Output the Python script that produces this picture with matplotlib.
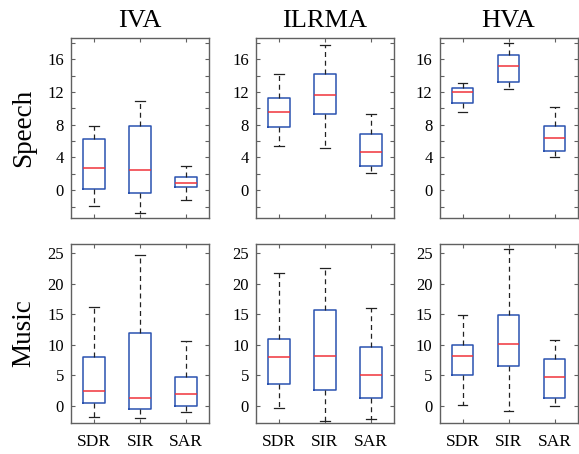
import matplotlib
matplotlib.use("Agg")
import matplotlib.pyplot as plt

plt.rcParams['font.family'] = ['Liberation Serif', 'DejaVu Serif']

methods = ["IVA", "ILRMA", "HVA"]
rows = ["Speech", "Music"]
metrics = ["SDR", "SIR", "SAR"]

# each entry: [whislo, q1, med, q3, whishi]
speech_iva = [[-1.9, 0.16, 2.76, 6.2, 7.85],
              [-2.85, -0.37, 2.48, 7.85, 10.94],
              [-1.18, 0.44, 0.85, 1.66, 3.0]]
speech_ilrma = [[5.37, 7.77, 9.52, 11.27, 14.16],
                [5.2, 9.35, 11.68, 14.24, 17.7],
                [2.15, 2.93, 4.71, 6.91, 9.35]]
speech_hva = [[9.56, 10.62, 11.96, 12.49, 13.06],
              [12.4, 13.26, 15.18, 16.48, 18.0],
              [4.1, 4.76, 6.35, 7.89, 10.21]]
music_iva = [[-1.86, 0.44, 2.51, 7.97, 16.16],
             [-1.97, -0.49, 1.36, 12.0, 24.78],
             [-0.93, 0.05, 2.02, 4.69, 10.7]]
music_ilrma = [[-0.27, 3.55, 7.97, 10.92, 21.78],
               [-2.4, 2.57, 8.24, 15.67, 22.65],
               [-2.18, 1.31, 5.02, 9.72, 16.05]]
music_hva = [[0.22, 5.08, 8.24, 10.04, 14.9],
             [-0.87, 6.55, 10.1, 14.96, 25.6],
             [0.0, 1.26, 4.75, 7.64, 10.8]]

data = [[speech_iva, speech_ilrma, speech_hva],
        [music_iva, music_ilrma, music_hva]]

W, H = 579, 454
fig = plt.figure(figsize=(W / 100, H / 100), dpi=100)

lefts = [71, 256, 439.5]
axw = 138
row_tb = [(38, 218), (244, 423)]
ylims = [(-3.4, 18.6), (-2.8, 26.5)]
major = [[0, 4, 8, 12, 16], [0, 5, 10, 15, 20, 25]]
minor = [[-2, 2, 6, 10, 14, 18], []]

box_color = '#2a52b0'
med_color = '#f0333a'
spine_color = '#606060'

for r in range(2):
    top, bot = row_tb[r]
    for c in range(3):
        ax = fig.add_axes([lefts[c] / W, 1 - bot / H, axw / W, (bot - top) / H])
        stats = []
        for m, vals in zip(metrics, data[r][c]):
            lo, q1, med, q3, hi = vals
            stats.append(dict(label=m, whislo=lo, q1=q1, med=med, q3=q3,
                              whishi=hi, fliers=[]))
        ax.bxp(stats, positions=[1, 2, 3], widths=0.46, capwidths=0.2,
               showfliers=False,
               boxprops=dict(color=box_color, linewidth=1.1),
               medianprops=dict(color=med_color, linewidth=1.1),
               whiskerprops=dict(color='#222222', linestyle=(0, (4, 3)), linewidth=0.9),
               capprops=dict(color='#222222', linewidth=0.9))
        ax.set_xlim(0.5, 3.5)
        ax.set_ylim(*ylims[r])
        ax.set_yticks(major[r])
        ax.set_yticks(minor[r], minor=True)
        ax.tick_params(axis='both', which='both', direction='in', top=True,
                       right=True, color=spine_color, labelsize=12, length=3,
                       width=0.8)
        ax.tick_params(axis='y', which='major', pad=5)
        ax.tick_params(axis='x', which='major', pad=8)
        if r == 0:
            ax.set_xticklabels([])
            ax.set_title(methods[c], fontsize=19, pad=8)
        else:
            ax.set_xticks([1, 2, 3])
            ax.set_xticklabels(metrics, fontsize=12.5)
        for s in ax.spines.values():
            s.set_color(spine_color)
            s.set_linewidth(1.0)
        if c == 0:
            ax.set_ylabel(rows[r], fontsize=19.5, labelpad=8)

fig.savefig("out.png", dpi=100)
